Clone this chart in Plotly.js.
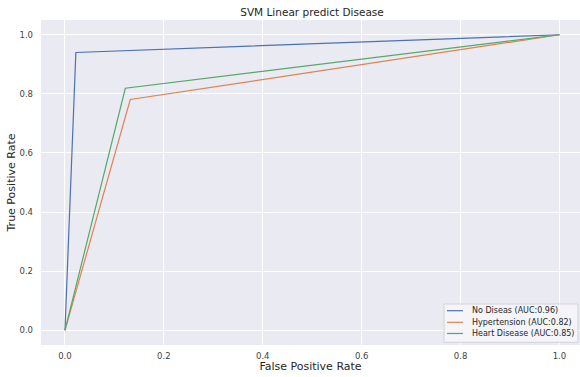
<!DOCTYPE html>
<html>
<head>
<meta charset="utf-8">
<script src="https://cdn.plot.ly/plotly-3.0.1.min.js"></script>
<style>
  html, body { margin: 0; padding: 0; background: #ffffff; }
  #chart { width: 580px; height: 377px; }
</style>
</head>
<body>
<div id="chart"></div>
<script>
// ROC curves of the linear SVM, one per class
const seriesNames = ["No Diseas (AUC:0.96)", "Hypertension (AUC:0.82)", "Heart Disease (AUC:0.85)"];
const fprNoDisease = [0.0, 0.022, 1.0];
const tprNoDisease = [0.0, 0.94, 1.0];
const fprHypertension = [0.0, 0.132, 1.0];
const tprHypertension = [0.0, 0.781, 1.0];
const fprHeart = [0.0, 0.122, 1.0];
const tprHeart = [0.0, 0.819, 1.0];
const tickValues = [0.0, 0.2, 0.4, 0.6, 0.8, 1.0];
const tickLabels = ["0.0", "0.2", "0.4", "0.6", "0.8", "1.0"];

const colors = ["#4C72B0", "#DD8452", "#55A868"];
const xs = [fprNoDisease, fprHypertension, fprHeart];
const ys = [tprNoDisease, tprHypertension, tprHeart];

const traces = seriesNames.map((name, i) => ({
  x: xs[i],
  y: ys[i],
  name: name,
  type: "scatter",
  mode: "lines",
  line: { color: colors[i], width: 1.2 },
  hoverinfo: "skip",
  showlegend: false
}));

const font = "DejaVu Sans, sans-serif";

// Compact legend box in the lower-right corner (paper coordinates)
const legendBox = { x0: 0.7477, x1: 0.9963, y0: 0.0083, y1: 0.1262 };
const legendRows = [0.1055, 0.0698, 0.0354];
const handleX = [0.7532, 0.7829];
const labelX = 0.7963;

const shapes = [{
  type: "rect", xref: "paper", yref: "paper",
  x0: legendBox.x0, x1: legendBox.x1, y0: legendBox.y0, y1: legendBox.y1,
  fillcolor: "rgba(246,246,250,0.85)",
  line: { color: "#D2D2D8", width: 1 },
  layer: "above"
}];
const annotations = [];
seriesNames.forEach((name, i) => {
  shapes.push({
    type: "line", xref: "paper", yref: "paper",
    x0: handleX[0], x1: handleX[1], y0: legendRows[i], y1: legendRows[i],
    line: { color: colors[i], width: 1.2 },
    layer: "above"
  });
  annotations.push({
    xref: "paper", yref: "paper",
    x: labelX, y: legendRows[i],
    xanchor: "left", yanchor: "middle",
    text: name, showarrow: false,
    font: { family: font, size: 8, color: "#262626" }
  });
});

const layout = {
  width: 580,
  height: 377,
  margin: { l: 41, r: 0, t: 20, b: 32, pad: 0 },
  paper_bgcolor: "#ffffff",
  plot_bgcolor: "#EAEAF2",
  font: { family: font, color: "#262626" },
  showlegend: false,
  title: {
    text: "SVM Linear predict Disease",
    font: { family: font, size: 10.5, color: "#262626" },
    x: 0.538,
    xanchor: "center",
    y: 1 - 12 / 377,
    yref: "container",
    yanchor: "middle"
  },
  xaxis: {
    range: [-0.0485, 1.0415],
    tickvals: tickValues,
    ticktext: tickLabels,
    tickfont: { family: font, size: 8.5, color: "#444444" },
    showgrid: true,
    gridcolor: "#ffffff",
    gridwidth: 1,
    zeroline: false,
    showline: false,
    ticks: "",
    ticklabelstandoff: 4,
    title: {
      text: "False Positive Rate",
      font: { family: font, size: 11, color: "#262626" },
      standoff: 2
    }
  },
  yaxis: {
    range: [-0.05, 1.05],
    tickvals: tickValues,
    ticktext: tickLabels,
    tickfont: { family: font, size: 8.5, color: "#444444" },
    showgrid: true,
    gridcolor: "#ffffff",
    gridwidth: 1,
    zeroline: false,
    showline: false,
    ticks: "",
    ticklabelstandoff: 7,
    title: {
      text: "True Positive Rate",
      font: { family: font, size: 11, color: "#262626" },
      standoff: 1
    }
  },
  shapes: shapes,
  annotations: annotations
};

Plotly.newPlot("chart", traces, layout, { displayModeBar: false, staticPlot: true });
</script>
</body>
</html>
